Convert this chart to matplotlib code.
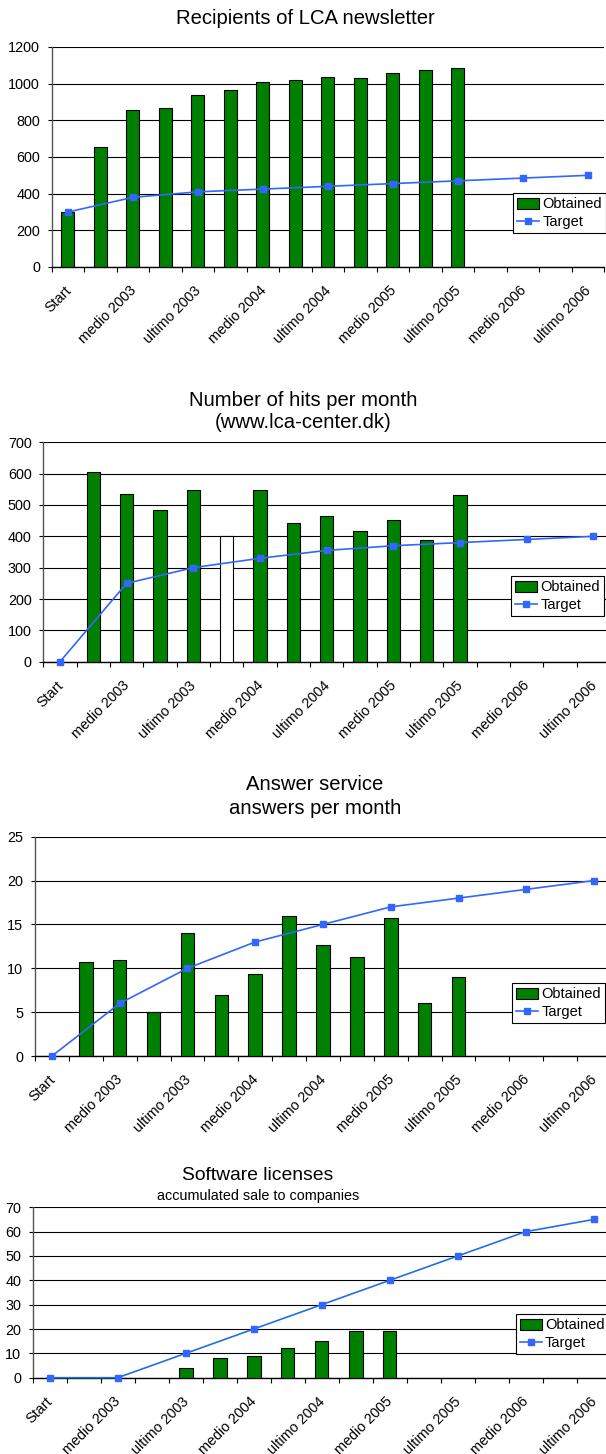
import numpy as np
import matplotlib
matplotlib.use("Agg")
import matplotlib.pyplot as plt
from matplotlib.lines import Line2D
from matplotlib.patches import Patch
from matplotlib.transforms import ScaledTranslation

plt.rcParams['font.family'] = ['Liberation Sans', 'DejaVu Sans']

# ---------------- data ----------------
n_slots = 17
period_labels = ["Start", "medio 2003", "ultimo 2003", "medio 2004", "ultimo 2004",
                 "medio 2005", "ultimo 2005", "medio 2006", "ultimo 2006"]

newsletter_obtained = [300, 655, 855, 870, 937, 968, 1008, 1020, 1035, 1032, 1058, 1075, 1085]
newsletter_target = [300, 380, 410, 425, 440, 455, 470, 485, 500]

hits_obtained = [np.nan, 606, 535, 485, 549, 402, 547, 443, 464, 416, 452, 388, 532]
hits_target = [0, 250, 300, 330, 355, 370, 380, 390, 400]
hits_open_bars = [5]

answers_obtained = [np.nan, 10.7, 11.0, 5.0, 14.0, 7.0, 9.4, 16.0, 12.7, 11.3, 15.7, 6.0, 9.0]
answers_target = [0, 6, 10, 13, 15, 17, 18, 19, 20]

licenses_obtained = [np.nan, np.nan, np.nan, np.nan, 4, 8, 9, 12, 15, 19, 19]
licenses_target = [0, 0, 10, 20, 30, 40, 50, 60, 65]

W, H = 606, 1454
fig = plt.figure(figsize=(W / 100, H / 100), dpi=100)

GREEN = '#008000'
BLUE = '#3366FF'


def make_axes(left, right, top, bottom):
    return fig.add_axes([left / W, 1 - bottom / H, (right - left) / W, (bottom - top) / H])


def draw(ax, obtained, target, ymax, ystep, legend_box, line_color=BLUE, open_bars=()):
    x = np.arange(len(obtained))
    vals = np.array(obtained, dtype=float)
    mask = ~np.isnan(vals)
    colors = ['white' if i in open_bars else GREEN for i in x[mask]]
    ax.bar(x[mask], vals[mask], width=0.4, color=colors, edgecolor='black',
           linewidth=0.8, zorder=3)
    tx = np.arange(len(target)) * 2
    ax.plot(tx, target, color=line_color, lw=1.2, marker='s', markersize=4.5,
            markerfacecolor=BLUE, markeredgecolor=BLUE, zorder=4, clip_on=False)
    ax.set_xlim(-0.5, n_slots - 0.5)
    ax.set_ylim(0, ymax)
    ax.set_yticks(np.arange(0, ymax + ystep / 2, ystep))
    ax.yaxis.grid(True, color='black', lw=0.8, zorder=0)
    ax.set_axisbelow(True)
    for s in ['top', 'right']:
        ax.spines[s].set_visible(False)
    ax.spines['left'].set_color('#555555')
    ax.spines['left'].set_linewidth(1.0)
    ax.spines['bottom'].set_color('black')
    ax.spines['bottom'].set_linewidth(1.0)
    ax.tick_params(axis='y', length=2.9, width=0.8, labelsize=10.4, pad=5.5)
    # category boundaries ticks
    ax.set_xticks(np.arange(-0.5, n_slots, 1.0), minor=True)
    ax.tick_params(axis='x', which='minor', length=3.6, width=0.8, direction='out')
    ax.set_xticks(np.arange(len(period_labels)) * 2)
    ax.set_xticklabels(period_labels, rotation=45, ha='right', va='top',
                       rotation_mode='anchor', fontsize=10.4)
    ax.tick_params(axis='x', which='major', length=0, pad=12)
    off = ScaledTranslation(-4 / 100, 0, fig.dpi_scale_trans)
    for lab in ax.get_xticklabels():
        lab.set_transform(lab.get_transform() + off)
    handles = [Patch(facecolor=GREEN, edgecolor='black', linewidth=0.8),
               Line2D([], [], color=BLUE, lw=1.2, marker='s', markersize=4.5)]
    lx, ly = legend_box
    leg = ax.legend(handles, ['Obtained', 'Target'], loc='upper left',
                    bbox_to_anchor=(lx / W, 1 - ly / H), bbox_transform=fig.transFigure,
                    frameon=True, fancybox=False, edgecolor='black', framealpha=1,
                    fontsize=10.5, handlelength=1.5, handleheight=0.8, handletextpad=0.2,
                    borderpad=0.3, labelspacing=0.25, borderaxespad=0)
    leg.get_frame().set_linewidth(0.8)
    leg.set_zorder(10)


# Chart 1
ax1 = make_axes(51.7, 604, 47, 267)
draw(ax1, newsletter_obtained, newsletter_target, 1200, 200, (513, 193))
fig.text(305 / W, 1 - 18 / H, "Recipients of LCA newsletter", ha='center', va='center', fontsize=14.6)

# Chart 2
ax2 = make_axes(43.3, 610, 442.3, 661.7)
draw(ax2, hits_obtained, hits_target, 700, 100, (511, 576), open_bars=hits_open_bars)
fig.text(303 / W, 1 - 400 / H, "Number of hits per month", ha='center', va='center', fontsize=14.6)
fig.text(303 / W, 1 - 423 / H, "(www.lca-center.dk)", ha='center', va='center', fontsize=14.6)

# Chart 3
ax3 = make_axes(35, 611, 836.7, 1056)
draw(ax3, answers_obtained, answers_target, 25, 5, (512, 983))
fig.text(315 / W, 1 - 784 / H, "Answer service", ha='center', va='center', fontsize=14.6)
fig.text(315 / W, 1 - 808 / H, "answers per month", ha='center', va='center', fontsize=14.6)

# Chart 4
ax4 = make_axes(32.7, 610.7, 1207.3, 1377.7)
draw(ax4, licenses_obtained, licenses_target, 70, 10, (515.7, 1314), line_color='#2070E0')
fig.text(258 / W, 1 - 1175 / H, "Software licenses", ha='center', va='center', fontsize=13.9)
fig.text(258 / W, 1 - 1196 / H, "accumulated sale to companies", ha='center', va='center', fontsize=10.4)

fig.savefig("out.png", dpi=100)
